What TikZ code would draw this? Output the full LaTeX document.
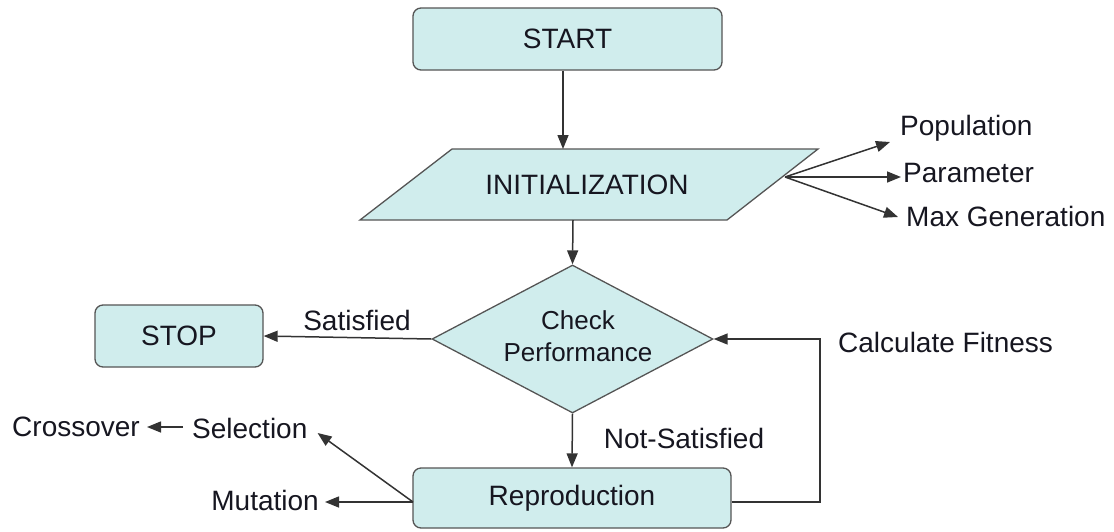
\documentclass[tikz,border=0pt]{standalone}
\usepackage{fontspec}
\setmainfont{Liberation Sans}
\usetikzlibrary{shapes.geometric,arrows.meta}
\definecolor{boxfill}{HTML}{D0EDED}
\definecolor{boxline}{HTML}{555555}
\definecolor{txt}{HTML}{161620}
\definecolor{arrcol}{HTML}{333333}
\begin{document}
\begin{tikzpicture}[x=1pt,y=-1pt,
  every node/.style={font=\fontsize{28}{32}\selectfont, text=txt},
  rbox/.style={draw=boxline, line width=1.3pt, fill=boxfill, rounded corners=8pt, inner sep=0pt},
  lbl/.style={inner sep=0pt},
  arr/.style={draw=arrcol, line width=1.5pt, -{Triangle[length=14pt,width=11pt]}},
  ln/.style={draw=arrcol, line width=1.5pt}]
\useasboundingbox (0,0) rectangle (1114,531);
% nodes
\node[rbox, minimum width=309pt, minimum height=62pt] (start) at (567.5,39) {START};
\coordinate (ibl) at (360,220);
\coordinate (itl) at (452,149);
\coordinate (itr) at (818,149);
\coordinate (ibr) at (727,220);
\draw[draw=boxline, line width=1.3pt, fill=boxfill] (ibl) -- (itl) -- (itr) -- (ibr) -- cycle;
\node[lbl] (init) at (587,185) {INITIALIZATION};
\coordinate (inittop) at (563,149);
\coordinate (initbot) at (573,220);
\coordinate (initright) at (785,177);
\node[diamond, draw=boxline, line width=1.3pt, fill=boxfill, inner sep=0pt, aspect=1.9,
      minimum width=281pt, minimum height=148pt, align=center,
      font=\fontsize{26}{32}\selectfont] (check) at (572.5,339) {};
\node[lbl, align=center, font=\fontsize{26}{32}\selectfont] (checktxt) at (578,336) {Check\\Performance};
\node[rbox, minimum width=168pt, minimum height=62pt] (stop) at (179,336) {STOP};
\node[rbox, minimum width=318pt, minimum height=60pt] (repro) at (572,498) {Reproduction};
% labels
\node[lbl, anchor=west] (pop) at (900,128) {Population};
\node[lbl, anchor=west] (par) at (903,173) {Parameter};
\node[lbl, anchor=west] (maxg) at (906,216) {Max Generation};
\node[lbl, anchor=west] (fit) at (838,342) {Calculate Fitness};
\node[lbl] (sat) at (357,320) {Satisfied};
\node[lbl] (nsat) at (684,438) {Not-Satisfied};
\node[lbl, anchor=east] (cross) at (140,427) {Crossover};
\node[lbl, anchor=west] (sel) at (192,428) {Selection};
\node[lbl, anchor=east] (mut) at (319,500) {Mutation};
% connectors
\draw[arr] ([xshift=-4.5pt]start.south) -- (inittop);
\draw[arr] (initbot) -- (check.north);
\draw[arr] (check.west) -- (stop.east);
\draw[arr] (check.south) -- (repro.north);
\coordinate (fbr) at (820,502);
\draw[arr] ([yshift=-4pt]repro.east) -- (fbr) |- (check.east);
\draw[arr] (initright) -- ([xshift=-10pt,yshift=-14pt]pop.west);
\draw[arr] (initright) -- ([xshift=-2pt,yshift=-4pt]par.west);
\draw[arr] (initright) -- ([xshift=-8pt,yshift=-1pt]maxg.west);
\coordinate (rw) at (413,502);
\draw[arr] (rw) -- ([xshift=10pt,yshift=-5pt]sel.east);
\draw[arr] (rw) -- ([xshift=6pt,yshift=-2pt]mut.east);
\draw[arr] ([xshift=-9pt,yshift=1pt]sel.west) -- ([xshift=7pt]cross.east);
\end{tikzpicture}
\end{document}
